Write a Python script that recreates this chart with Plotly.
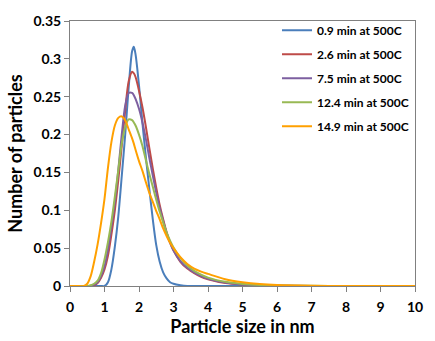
import plotly.graph_objects as go

# Particle size grid (nm)
size_nm = [0, 0.2, 0.4, 0.5, 0.6, 0.7, 0.8, 0.9, 1.0, 1.1, 1.2, 1.3, 1.4, 1.5, 1.6, 1.7, 1.8, 1.85, 1.9,
           2.0, 2.1, 2.2, 2.3, 2.4, 2.5, 2.6, 2.7, 2.8, 2.9, 3.0, 3.2, 3.4, 3.6, 3.8, 4.0, 4.5,
           5.0, 5.5, 6.0, 7.0, 8.0, 9.0, 10.0]

series_names = ["0.9 min at 500C", "2.6 min at 500C", "7.5 min at 500C",
                "12.4 min at 500C", "14.9 min at 500C"]

blue_09 = [0, 0, 0, 0, 0, 0, 0, 0, 0.0, 0.005, 0.022, 0.052, 0.092, 0.145, 0.2, 0.262, 0.31, 0.316, 0.306,
           0.265, 0.215, 0.17, 0.128, 0.088, 0.054, 0.032, 0.018, 0.01, 0.005, 0.003, 0.001, 0, 0, 0, 0, 0,
           0, 0, 0, 0, 0, 0, 0]
red_26 = [0, 0, 0, 0, 0, 0.001, 0.004, 0.011, 0.022, 0.04, 0.068, 0.1, 0.14, 0.185, 0.232, 0.27, 0.283, 0.281, 0.276,
          0.258, 0.236, 0.21, 0.182, 0.155, 0.13, 0.107, 0.088, 0.071, 0.058, 0.047, 0.032, 0.023, 0.017, 0.012, 0.009, 0.004,
          0.002, 0.001, 0.0004, 0, 0, 0, 0]
purple_75 = [0, 0, 0, 0, 0.0005, 0.002, 0.005, 0.013, 0.026, 0.048, 0.078, 0.111, 0.153, 0.2, 0.238, 0.255, 0.255, 0.252, 0.247,
             0.234, 0.216, 0.194, 0.169, 0.146, 0.123, 0.103, 0.086, 0.07, 0.057, 0.047, 0.033, 0.024, 0.018, 0.013, 0.0095, 0.0045,
             0.002, 0.001, 0.0005, 0, 0, 0, 0]
green_124 = [0, 0, 0, 0, 0.001, 0.003, 0.007, 0.017, 0.035, 0.058, 0.085, 0.118, 0.153, 0.188, 0.21, 0.22, 0.219, 0.216, 0.212,
             0.2, 0.185, 0.166, 0.148, 0.131, 0.114, 0.098, 0.084, 0.071, 0.06, 0.051, 0.037, 0.027, 0.02, 0.015, 0.011, 0.0055,
             0.0028, 0.0014, 0.0007, 0.0002, 0, 0, 0]
orange_149 = [0, 0, 0, 0.003, 0.013, 0.032, 0.055, 0.083, 0.115, 0.156, 0.19, 0.212, 0.222, 0.224, 0.219, 0.207, 0.195, 0.188, 0.18,
              0.165, 0.152, 0.137, 0.123, 0.111, 0.099, 0.088, 0.076, 0.066, 0.057, 0.05, 0.038, 0.029, 0.023, 0.019, 0.016, 0.009,
              0.005, 0.0025, 0.0012, 0.0003, 0.0001, 0, 0]

colors = ["#4A7EBB", "#BE4B48", "#7D5FA0", "#98B954", "#FFA000"]
all_series = [blue_09, red_26, purple_75, green_124, orange_149]

x_ticks = [0, 1, 2, 3, 4, 5, 6, 7, 8, 9, 10]
y_ticks = [0, 0.05, 0.1, 0.15, 0.2, 0.25, 0.3, 0.35]
y_tick_text = ["0", "0.05", "0.1", "0.15", "0.2", "0.25", "0.3", "0.35"]

fig = go.Figure()
for name, vals, col in zip(series_names, all_series, colors):
    fig.add_trace(go.Scatter(x=size_nm, y=vals, mode="lines", name=name, legendgroup=name,
                             line=dict(color=col, width=2, shape="spline", smoothing=0.8)))

font_family = "Lato"
fig.update_layout(
    width=435, height=341,
    margin=dict(l=70, r=13, t=12, b=54),
    paper_bgcolor="white", plot_bgcolor="white",
    font=dict(family=font_family, color="black"),
    legend=dict(x=0.6, y=1.02, xanchor="left", yanchor="top",
                font=dict(size=12, family=font_family, weight="bold"),
                bgcolor="rgba(0,0,0,0)", traceorder="grouped", tracegroupgap=5),
    showlegend=True,
)
fig.update_xaxes(range=[0, 10], tickvals=x_ticks, ticks="outside", ticklen=5, tickcolor="#808080",
                 ticklabelstandoff=3,
                 showgrid=False, zeroline=False, showline=True, linecolor="#808080", linewidth=1, mirror=True,
                 tickfont=dict(size=14, family=font_family, weight="bold"),
                 title=dict(text="<b>Particle size in nm</b>", font=dict(size=18, family=font_family), standoff=2))
fig.update_yaxes(range=[0, 0.35], tickvals=y_ticks, ticktext=y_tick_text, ticks="outside", ticklen=5,
                 tickcolor="#808080",
                 showgrid=False, zeroline=False, showline=True, linecolor="#808080", linewidth=1, mirror=True,
                 tickfont=dict(size=14, family=font_family, weight="bold"),
                 title=dict(text="<b>Number of particles</b>", font=dict(size=18, family=font_family), standoff=6))

fig.write_html("out.html")
